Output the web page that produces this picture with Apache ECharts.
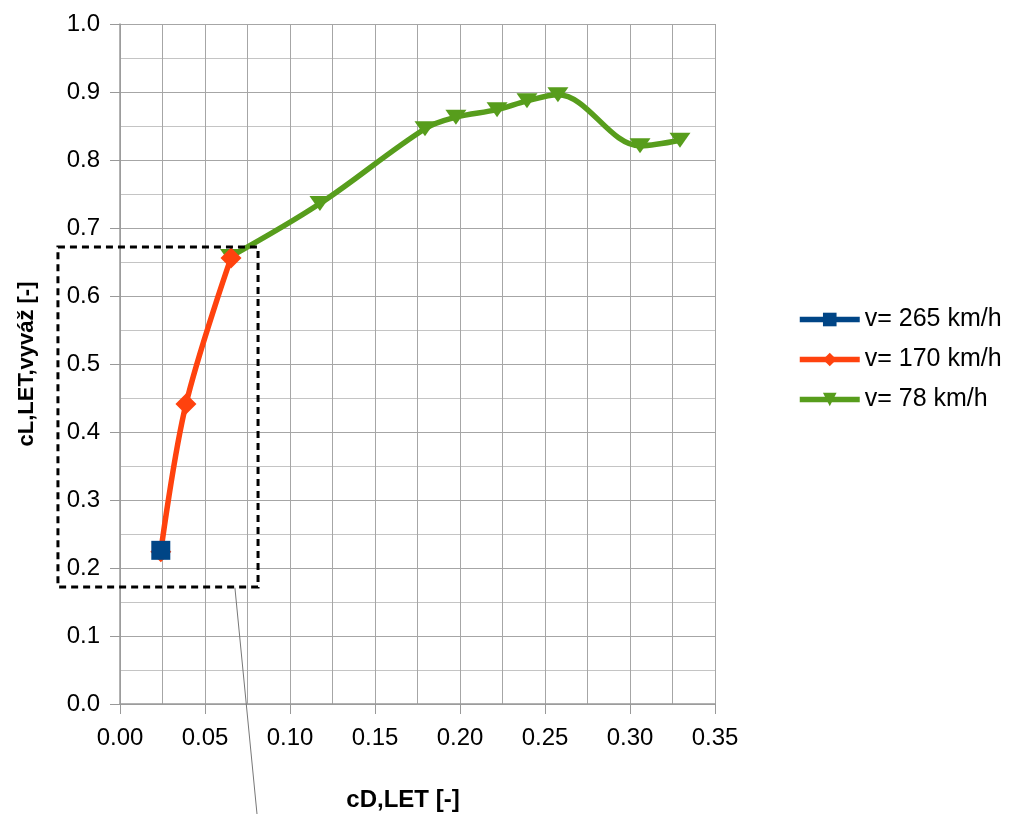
<!DOCTYPE html>
<html>
<head>
<meta charset="utf-8">
<script src="https://cdn.jsdelivr.net/npm/echarts@6/dist/echarts.min.js"></script>
<style>
  html, body { margin: 0; padding: 0; background: #fff; overflow: hidden; }
  #chart { position: absolute; left: 0; top: 0; width: 1015px; height: 814px; }
</style>
</head>
<body>
<div id="chart"></div>
<script>
// Lift coefficient vs drag coefficient for three flight speeds
const seriesNames = ['v= 265 km/h', 'v= 170 km/h', 'v= 78 km/h'];

const cd265 = [0.024];
const cl265 = [0.226];

const cd170 = [0.024, 0.0388, 0.0653];
const cl170 = [0.224, 0.441, 0.656];

const cd78 = [0.065, 0.1176, 0.1794, 0.1976, 0.2218, 0.2394, 0.2576, 0.3059, 0.3294];
const cl78 = [0.658, 0.736, 0.846, 0.863, 0.874, 0.887, 0.896, 0.821, 0.829];

const xTicks = [0, 0.05, 0.10, 0.15, 0.20, 0.25, 0.30, 0.35];
const yTicks = [0, 0.1, 0.2, 0.3, 0.4, 0.5, 0.6, 0.7, 0.8, 0.9, 1.0];

// dashed zoom box around the high-speed region (data units) and its leader line
const boxX = [-0.0365, 0.0812];
const boxY = [0.172, 0.672];
const leader = [[0.0676, 0.171], [0.0806, -0.162]];

const pair = (xs, ys) => xs.map((x, i) => [x, ys[i]]);

const FONT = '"Liberation Sans", Arial, sans-serif';
const colors = ['#004586', '#ff420e', '#579d1c'];

const chart = echarts.init(document.getElementById('chart'), null, { renderer: 'canvas' });

const option = {
  animation: false,
  backgroundColor: '#ffffff',
  textStyle: { fontFamily: FONT },
  grid: { left: 120, top: 24, right: 300, bottom: 110, containLabel: false, outerBoundsMode: 'none' },
  legend: {
    orient: 'vertical',
    left: 792,
    top: 302,
    itemWidth: 60,
    itemHeight: 17,
    itemGap: 15,
    data: seriesNames,
    lineStyle: { width: 5.5 },
    textStyle: { fontFamily: FONT, fontSize: 25, color: '#000', lineHeight: 25, padding: [0, 0, 0, 0] }
  },
  xAxis: {
    type: 'value',
    min: xTicks[0],
    max: xTicks[xTicks.length - 1],
    interval: 0.05,
    name: 'cD,LET [-]',
    nameLocation: 'middle',
    nameGap: 84,
    nameTextStyle: { fontFamily: FONT, fontSize: 24, fontWeight: 'bold', color: '#000', padding: [0, 29, 0, 0] },
    axisLine: { show: true, onZero: false, lineStyle: { color: '#999', width: 1.5 } },
    axisTick: { show: true, length: 10, lineStyle: { color: '#999' } },
    axisLabel: { fontFamily: FONT, fontSize: 24, color: '#000', margin: 22, formatter: v => v.toFixed(2) },
    splitLine: { show: true, lineStyle: { color: '#a6a6a6', width: 1 } },
    minorTick: { show: false, splitNumber: 2 },
    minorSplitLine: { show: true, lineStyle: { color: '#a6a6a6', width: 1 } }
  },
  yAxis: {
    type: 'value',
    min: yTicks[0],
    max: yTicks[yTicks.length - 1],
    interval: 0.1,
    name: 'cL,LET,vyváž [-]',
    nameLocation: 'middle',
    nameGap: 82,
    nameRotate: 90,
    nameTextStyle: { fontFamily: FONT, fontSize: 22, fontWeight: 'bold', color: '#000' },
    axisLine: { show: true, onZero: false, lineStyle: { color: '#999', width: 1.5 } },
    axisTick: { show: true, length: 10, lineStyle: { color: '#999' } },
    axisLabel: { fontFamily: FONT, fontSize: 24, color: '#000', margin: 20, formatter: v => v.toFixed(1) },
    splitLine: { show: true, lineStyle: { color: '#a6a6a6', width: 1 } },
    minorTick: { show: false, splitNumber: 2 },
    minorSplitLine: { show: true, lineStyle: { color: '#c4c4c4', width: 1 } }
  },
  series: [
    {
      name: seriesNames[0],
      type: 'line',
      z: 4,
      data: pair(cd265, cl265),
      symbol: 'rect',
      symbolSize: 19,
      showAllSymbol: true,
      itemStyle: { color: colors[0] },
      lineStyle: { color: colors[0], width: 5.5 }
    },
    {
      name: seriesNames[1],
      type: 'line',
      z: 3,
      data: pair(cd170, cl170),
      smooth: 0.35,
      symbol: 'diamond',
      symbolSize: 21,
      showAllSymbol: true,
      itemStyle: { color: colors[1] },
      lineStyle: { color: colors[1], width: 5.5 }
    },
    {
      name: seriesNames[2],
      type: 'line',
      z: 2,
      data: pair(cd78, cl78),
      smooth: 0.35,
      symbol: 'triangle',
      symbolRotate: 180,
      symbolSize: [21, 15],
      showAllSymbol: true,
      itemStyle: { color: colors[2] },
      lineStyle: { color: colors[2], width: 5.5 }
    }
  ]
};

chart.setOption(option);

// annotation: dashed box and thin leader line, placed through the axis scales
const p0 = chart.convertToPixel({ gridIndex: 0 }, [boxX[0], boxY[1]]);
const p1 = chart.convertToPixel({ gridIndex: 0 }, [boxX[1], boxY[0]]);
const l0 = chart.convertToPixel({ gridIndex: 0 }, leader[0]);
const l1 = chart.convertToPixel({ gridIndex: 0 }, leader[1]);

chart.setOption({
  graphic: [
    {
      type: 'rect',
      z: 10,
      shape: { x: p0[0], y: p0[1], width: p1[0] - p0[0], height: p1[1] - p0[1] },
      style: { fill: null, stroke: '#000', lineWidth: 3, lineDash: [7, 5] }
    },
    {
      type: 'line',
      z: 10,
      shape: { x1: l0[0], y1: l0[1], x2: l1[0], y2: l1[1] },
      style: { stroke: '#777', lineWidth: 1 }
    }
  ]
});
</script>
</body>
</html>
